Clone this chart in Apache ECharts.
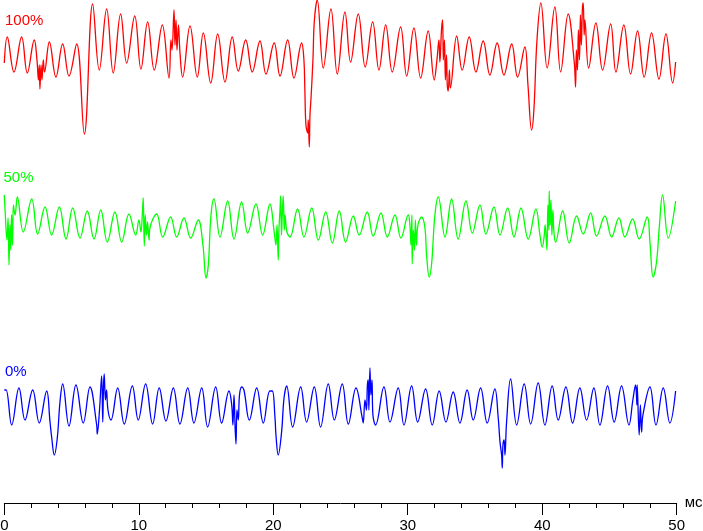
<!DOCTYPE html>
<html><head><meta charset="utf-8">
<script src="https://cdn.jsdelivr.net/npm/echarts@6/dist/echarts.min.js"></script>
<style>html,body{margin:0;padding:0;background:#fff}#c{width:703px;height:531px}</style>
</head><body><div id="c"></div>
<script>
// time (ms), signal level (relative units) for each trace
const red = [[0,87],[0.22,113],[0.72,78],[1.29,113],[1.71,77],[2.23,110],[2.43,90],[2.54,70],[2.60,85],[2.65,61],[2.73,85],[2.80,70],[2.90,90],[2.99,78],[3.35,108],[3.84,73],[4.34,106],[4.81,74],[5.38,106],[5.95,16],[6.57,146],[7.06,80],[7.61,141],[8.10,77],[8.65,136],[9.10,87],[9.70,134],[10.16,81],[10.66,128],[11.15,80],[11.75,125],[12.25,72],[12.39,110],[12.47,100],[12.62,140],[12.69,105],[12.77,130],[12.84,100],[12.95,125],[13.06,98],[13.26,73],[13.81,124],[14.35,73],[14.80,117],[15.35,67],[15.87,116],[16.41,68],[16.95,113],[17.40,79],[17.95,110],[18.44,78],[19.01,109],[19.46,76],[20.07,107],[20.50,74],[21.07,110],[21.54,72],[22.11,107],[22.28,90],[22.35,60],[22.43,25],[22.56,17],[22.60,30],[22.68,3],[22.73,35],[22.80,50],[22.95,90],[23.06,130],[23.27,150],[23.72,82],[24.29,141],[24.76,76],[25.33,138],[25.75,88],[26.32,136],[26.84,83],[27.39,128],[27.86,80],[28.36,125],[28.85,78],[29.47,123],[29.92,74],[30.46,122],[30.96,72],[31.52,119],[31.97,70],[32.17,90],[32.32,110],[32.39,88],[32.51,120],[32.59,130],[32.65,90],[32.73,110],[32.80,70],[32.88,95],[32.94,65],[33.01,59],[33.10,80],[33.17,62],[33.64,114],[34.05,80],[34.57,113],[35.07,78],[35.61,109],[36.11,75],[36.65,107],[37.15,75],[37.73,106],[38.17,73],[38.71,103],[38.94,65],[39.21,20],[39.38,40],[39.61,110],[39.90,147],[40.37,82],[40.94,143],[41.37,78],[41.93,136],[42.38,88],[42.48,63],[42.54,100],[42.62,80],[42.69,120],[42.77,90],[42.84,135],[42.91,105],[42.99,142],[43.05,147],[43.12,115],[43.17,130],[43.45,82],[43.99,127],[44.49,80],[45.09,126],[45.48,78],[46.07,125],[46.57,76],[47.09,119],[47.58,73],[48.13,117],[48.68,71],[49.20,116],[49.70,67],[49.92,88]];
const green = [[0,95],[0.05,82],[0.20,50],[0.28,72],[0.35,25],[0.42,65],[0.48,40],[0.54,75],[0.61,45],[0.68,85],[0.80,75],[0.97,93],[1.41,58],[2.04,91],[2.48,56],[3.03,83],[3.52,55],[4.09,83],[4.59,51],[5.09,82],[5.63,52],[6.17,79],[6.67,51],[7.17,80],[7.66,48],[8.23,78],[8.73,48],[9.27,76],[9.77,55],[10.01,70],[10.16,58],[10.28,80],[10.33,92],[10.41,44],[10.48,75],[10.57,55],[10.65,68],[10.76,50],[10.83,62],[11.33,76],[11.78,53],[12.37,73],[12.82,53],[13.36,72],[13.86,52],[14.42,70],[14.77,45],[15.00,12],[15.17,25],[15.37,75],[15.59,91],[16.04,53],[16.61,89],[17.08,51],[17.65,88],[18.10,57],[18.71,86],[19.21,55],[19.75,86],[20.07,58],[20.20,45],[20.28,65],[20.37,30],[20.42,60],[20.50,80],[20.55,94],[20.61,55],[20.67,75],[20.74,94],[20.82,60],[20.87,75],[21.02,58],[21.24,53],[21.81,81],[22.28,53],[22.86,82],[23.35,50],[23.90,78],[24.39,47],[24.91,79],[25.38,48],[25.95,74],[26.39,55],[26.99,78],[27.43,54],[28.01,77],[28.48,53],[29.05,75],[29.49,52],[30.04,75],[30.16,65],[30.24,45],[30.31,75],[30.33,26],[30.42,60],[30.50,40],[30.57,70],[30.65,45],[30.76,65],[31.03,73],[31.28,62],[31.40,35],[31.60,13],[31.78,27],[32.02,75],[32.27,93],[32.77,53],[33.26,91],[33.75,51],[34.33,89],[34.80,57],[35.37,85],[35.81,56],[36.41,83],[36.86,55],[37.43,82],[37.90,53],[38.42,82],[38.96,51],[39.53,81],[39.83,55],[40.00,43],[40.13,52],[40.22,65],[40.35,40],[40.42,85],[40.50,60],[40.52,99],[40.59,65],[40.65,90],[40.72,55],[40.79,80],[40.87,58],[40.99,48],[41.52,79],[42.01,47],[42.56,74],[43.05,56],[43.60,77],[44.04,54],[44.66,74],[45.16,53],[45.70,72],[46.15,53],[46.72,71],[47.21,51],[47.81,73],[48.01,48],[48.25,13],[48.50,28],[48.70,62],[48.95,95],[49.37,52],[49.92,89]];
const blue = [[0,85],[0.13,85],[0.55,50],[1.09,87],[1.54,55],[2.11,85],[2.60,52],[3.15,84],[3.40,53],[3.52,38],[3.72,20],[3.94,37],[4.14,73],[4.34,91],[4.81,49],[5.33,90],[5.87,52],[6.37,88],[6.87,50],[6.91,41],[7.08,65],[7.24,99],[7.32,53],[7.38,90],[7.43,101],[7.52,75],[7.60,85],[7.71,65],[7.93,55],[8.43,87],[8.92,51],[9.52,89],[9.96,55],[10.51,91],[11.03,51],[11.52,87],[12.02,54],[12.57,87],[13.06,51],[13.64,87],[14.10,52],[14.68,87],[15.12,48],[15.72,88],[16.16,52],[16.71,84],[16.91,70],[17.00,50],[17.08,80],[17.17,45],[17.23,31],[17.30,65],[17.40,55],[17.49,80],[17.65,88],[17.82,85],[18.22,55],[18.77,87],[19.26,52],[19.75,84],[19.93,84],[20.13,57],[20.20,40],[20.37,20],[20.62,43],[20.80,77],[21.00,89],[21.44,48],[22.04,88],[22.48,53],[23.05,88],[23.52,48],[24.09,91],[24.54,55],[25.13,91],[25.58,51],[26.15,87],[26.62,57],[26.69,52],[26.82,75],[26.93,65],[27.00,90],[27.06,95],[27.11,65],[27.19,107],[27.26,80],[27.34,95],[27.41,60],[27.61,50],[28.23,88],[28.68,53],[29.29,87],[29.72,50],[30.29,89],[30.74,53],[31.33,86],[31.82,50],[32.34,84],[32.84,53],[33.38,83],[33.88,52],[34.42,85],[34.87,55],[35.42,87],[35.91,52],[36.48,86],[36.73,57],[36.86,33],[36.98,20],[37.03,7],[37.08,30],[37.17,35],[37.23,20],[37.35,53],[37.65,96],[38.10,50],[38.66,91],[39.14,51],[39.70,92],[40.20,50],[40.74,89],[41.19,55],[41.76,88],[42.26,52],[42.80,87],[43.30,55],[43.84,87],[44.29,50],[44.86,89],[45.35,53],[45.90,89],[46.45,50],[46.74,75],[46.94,90],[47.04,70],[47.06,90],[47.21,40],[47.30,70],[47.39,43],[47.49,60],[48.01,88],[48.46,50],[49.00,87],[49.49,52],[49.92,84]];
const traceNames = ['100%', '50%', '0%'];
const xMin = 0, xMax = 50, xStep = 10;
const unitName = 'мс';

// layout / style
const colors = ['#ff0000', '#00ff00', '#0000ff'];
const offsets = [353, 213, 28];
const labelPos = [[5, 21], [3.5, 178], [5, 371.5]];
const FONT = '"Liberation Sans", Arial, sans-serif';

const chart = echarts.init(document.getElementById('c'), null, {renderer: 'canvas'});
const traces = [red, green, blue];
const option = {
  animation: false,
  backgroundColor: '#fff',
  grid: {left: 4.3, right: 26.3, top: 0, bottom: 28, containLabel: false, outerBoundsMode: 'none'},
  xAxis: {
    type: 'value', min: xMin, max: xMax, interval: xStep,
    axisLine: {show: true, lineStyle: {color: '#000', width: 1}},
    axisTick: {show: true, length: 12, lineStyle: {color: '#000', width: 1}},
    minorTick: {show: true, splitNumber: 5, length: 5, lineStyle: {color: '#000', width: 1}},
    axisLabel: {show: true, margin: 15, fontSize: 15, color: '#000', fontFamily: FONT, hideOverlap: false},
    splitLine: {show: false},
    name: unitName, nameLocation: 'end', nameGap: 8,
    nameTextStyle: {fontSize: 15, color: '#000', fontFamily: FONT, verticalAlign: 'middle', padding: [5, 0, 0, 0]}
  },
  yAxis: {type: 'value', min: 0, max: 503, show: false},
  series: traces.map((d, i) => ({
    type: 'line',
    name: traceNames[i],
    data: d.map(p => [p[0], p[1] + offsets[i]]),
    showSymbol: false,
    smooth: 0.4,
    lineStyle: {color: colors[i], width: 1.3},
    itemStyle: {color: colors[i]},
    silent: true
  })),
  graphic: traceNames.map((t, i) => ({
    type: 'text', x: labelPos[i][0], y: labelPos[i][1],
    style: {text: t, fill: colors[i], fontSize: 15, fontFamily: FONT, verticalAlign: 'middle', align: 'left'}
  }))
};
chart.setOption(option);
</script></body></html>
